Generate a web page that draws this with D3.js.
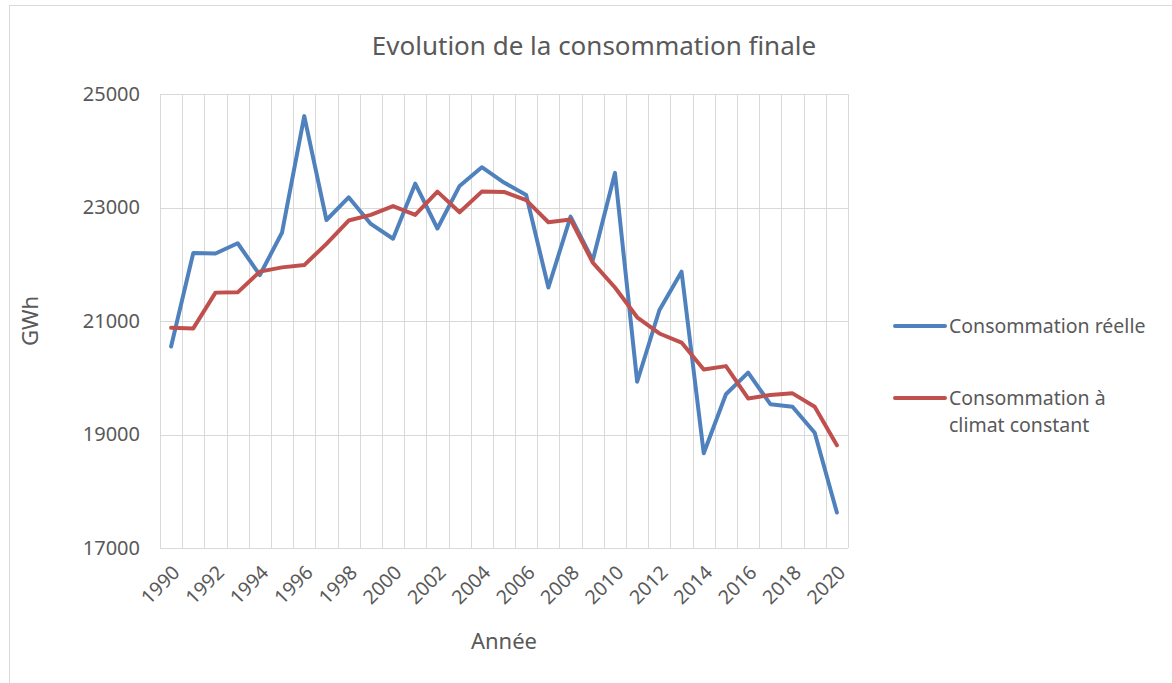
<!DOCTYPE html>
<html>
<head>
<meta charset="utf-8">
<script src="https://cdn.jsdelivr.net/npm/d3@7"></script>
<style>
  body { margin: 0; background: #fff; }
  text { font-family: "Noto Sans", sans-serif; fill: #595959; }
</style>
</head>
<body>
<div id="chart"></div>
<script>
"use strict";

const years = d3.range(1990, 2021);

const reelle = [
  20550, 22200, 22190, 22370, 21810, 22560, 24610, 22780, 23180, 22710,
  22450, 23420, 22630, 23380, 23710, 23440, 23220, 21590, 22840, 22070,
  23610, 19930, 21190, 21870, 18670, 19710, 20090, 19535, 19490, 19030,
  17625
];

const climatConstant = [
  20880, 20870, 21500, 21505, 21870, 21945, 21985, 22360, 22770, 22870,
  23025, 22870, 23280, 22915, 23280, 23275, 23130, 22740, 22790, 22030,
  21590, 21065, 20780, 20620, 20145, 20205, 19635, 19695, 19725, 19490,
  18810
];

const yTicks = [17000, 19000, 21000, 23000, 25000];
const xTickLabels = years.filter(y => y % 2 === 0);

const seriesColors = ["#4f81bd", "#c0504d"];
const legendLines = [["Consommation réelle"], ["Consommation à", "climat constant"]];

const width = 1172;
const height = 683;
const plot = { left: 160, right: 848, top: 94, bottom: 548 };

const svg = d3.select("#chart").append("svg")
  .attr("width", width)
  .attr("height", height);

// chart frame
svg.append("rect")
  .attr("x", 9.5)
  .attr("y", 5.5)
  .attr("width", width + 20)
  .attr("height", height + 20)
  .attr("fill", "#fff")
  .attr("stroke", "#d9d9d9");

const x = d3.scaleBand()
  .domain(years)
  .range([plot.left, plot.right])
  .padding(0);

const y = d3.scaleLinear()
  .domain([17000, 25000])
  .range([plot.bottom, plot.top]);

const cx = d => x(d) + x.bandwidth() / 2;

// grid
const grid = svg.append("g").attr("stroke", "#d9d9d9").attr("stroke-width", 1);

grid.selectAll(".hgrid")
  .data(yTicks)
  .join("line")
  .attr("class", "hgrid")
  .attr("x1", plot.left)
  .attr("x2", plot.right)
  .attr("y1", d => Math.round(y(d)) + 0.5)
  .attr("y2", d => Math.round(y(d)) + 0.5);

grid.selectAll(".vgrid")
  .data(years.concat([2021]))
  .join("line")
  .attr("class", "vgrid")
  .attr("x1", d => Math.round(d === 2021 ? plot.right : x(d)) + 0.5)
  .attr("x2", d => Math.round(d === 2021 ? plot.right : x(d)) + 0.5)
  .attr("y1", plot.top)
  .attr("y2", plot.bottom);

// y axis
const yAxis = svg.append("g")
  .attr("transform", "translate(" + (plot.left - 20) + ",0)")
  .call(d3.axisLeft(y).tickValues(yTicks).tickSize(0).tickPadding(0).tickFormat(d3.format("d")));
yAxis.select(".domain").remove();
yAxis.selectAll("text")
  .style("font-family", "Noto Sans, sans-serif")
  .style("font-size", "20px")
  .attr("fill", "#595959");

// x axis
const xAxis = svg.append("g")
  .attr("transform", "translate(0," + plot.bottom + ")")
  .call(d3.axisBottom(x).tickValues(xTickLabels).tickSize(0).tickPadding(0));
xAxis.select(".domain").remove();
xAxis.selectAll("text")
  .style("font-family", "Noto Sans, sans-serif")
  .style("font-size", "19.5px")
  .attr("fill", "#595959")
  .attr("text-anchor", "end")
  .attr("dy", "0.35em")
  .attr("transform", "translate(5,21) rotate(-45)");

// lines
const line = d3.line()
  .x((d, i) => cx(years[i]))
  .y(d => y(d));

[reelle, climatConstant].forEach(function(values, i) {
  svg.append("path")
    .datum(values)
    .attr("fill", "none")
    .attr("stroke", seriesColors[i])
    .attr("stroke-width", 4)
    .attr("stroke-linejoin", "round")
    .attr("stroke-linecap", "round")
    .attr("d", line);
});

// titles
svg.append("text")
  .attr("x", 594)
  .attr("y", 55)
  .attr("text-anchor", "middle")
  .style("font-size", "26px")
  .text("Evolution de la consommation finale");

svg.append("text")
  .attr("x", 504)
  .attr("y", 649)
  .attr("text-anchor", "middle")
  .style("font-size", "22px")
  .text("Année");

svg.append("text")
  .attr("transform", "translate(38,321) rotate(-90)")
  .attr("text-anchor", "middle")
  .style("font-size", "22px")
  .text("GWh");

// legend
const legend = svg.append("g");
const legendY = [326, 398];

legendY.forEach(function(ly, i) {
  legend.append("line")
    .attr("x1", 895)
    .attr("x2", 945)
    .attr("y1", ly)
    .attr("y2", ly)
    .attr("stroke", seriesColors[i])
    .attr("stroke-width", 4)
    .attr("stroke-linecap", "round");
  const t = legend.append("text")
    .attr("x", 949)
    .attr("y", ly + 7)
    .style("font-size", "19.5px");
  legendLines[i].forEach(function(s, j) {
    t.append("tspan")
      .attr("x", 949)
      .attr("dy", j === 0 ? 0 : 27)
      .text(s);
  });
});
</script>
</body>
</html>
